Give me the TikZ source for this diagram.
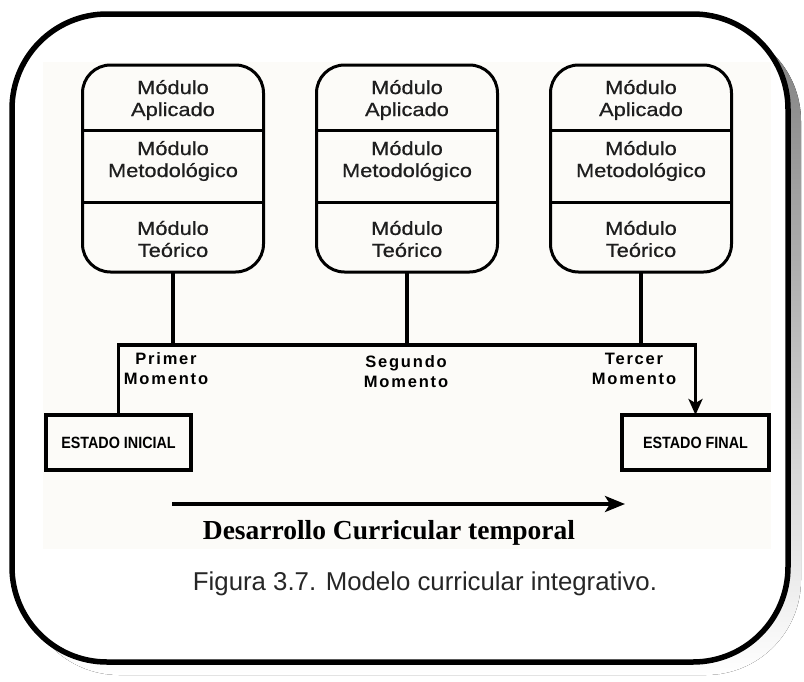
\documentclass[tikz,border=0pt]{standalone}
\usepackage{fontspec}
\setmainfont{Liberation Sans}
\newfontfamily\modfont[FakeStretch=1.15, FakeBold=0.6]{Liberation Sans}
\newfontfamily\momfont[LetterSpace=11]{Liberation Sans}
\newfontfamily\statefont[FakeStretch=0.88]{Liberation Sans}
\newfontfamily\serifbold{Liberation Serif}
\usetikzlibrary{arrows.meta,positioning}

\definecolor{panel}{RGB}{252,251,248}
\definecolor{shade}{RGB}{128,128,128}
\definecolor{ink}{RGB}{30,30,30}

\tikzset{
  modbox/.style={draw, line width=3pt, rounded corners=28pt, outer sep=0pt,
    minimum width=181pt, minimum height=207pt},
  modtext/.style={align=center, text=ink, font=\modfont\fontsize{19}{22}\selectfont},
  momtext/.style={align=center, font=\momfont\bfseries\fontsize{16.5}{20}\selectfont},
  statebox/.style={draw, line width=3.5pt, outer sep=0pt, inner sep=0pt,
    minimum height=55pt, font=\statefont\bfseries\fontsize{16.3}{18}\selectfont},
  wire/.style={line width=3.5pt},
  divider/.style={line width=3pt},
}

\begin{document}
\begin{tikzpicture}[x=1pt, y=-1pt]
    \useasboundingbox (0,0) rectangle (804,681);
    % frame
    \fill[shade, rounded corners=95pt] (24,26) rectangle (801,675);
    \draw[line width=5.5pt, fill=white, rounded corners=95pt] (12,14) rectangle (788,662);
    \fill[panel] (43,62) rectangle (771,549);

    % modules
    \node[modbox] (m1) at (173,168.5) {};
    \node[modbox] (m2) at (407,168.5) {};
    \node[modbox] (m3) at (641,168.5) {};
    \draw[divider] (m1.west |- 0,130) -- (m1.east |- 0,130);
    \draw[divider] (m1.west |- 0,202) -- (m1.east |- 0,202);
    \draw[divider] (m2.west |- 0,130) -- (m2.east |- 0,130);
    \draw[divider] (m2.west |- 0,202) -- (m2.east |- 0,202);
    \draw[divider] (m3.west |- 0,130) -- (m3.east |- 0,130);
    \draw[divider] (m3.west |- 0,202) -- (m3.east |- 0,202);
    \node[modtext] (m1a) at (173,100) {Módulo\\Aplicado};
    \node[modtext] (m1b) at (173,161) {Módulo\\Metodológico};
    \node[modtext] (m1c) at (173,239) {Módulo\\Teórico};
    \node[modtext] (m2a) at (407,100) {Módulo\\Aplicado};
    \node[modtext] (m2b) at (407,161) {Módulo\\Metodológico};
    \node[modtext] (m2c) at (407,239) {Módulo\\Teórico};
    \node[modtext] (m3a) at (641,100) {Módulo\\Aplicado};
    \node[modtext] (m3b) at (641,161) {Módulo\\Metodológico};
    \node[modtext] (m3c) at (641,239) {Módulo\\Teórico};

    % states
    \node[statebox, minimum width=145pt] (ini) at (118.5,442.5) {ESTADO INICIAL};
    \node[statebox, minimum width=147pt] (fin) at (695.5,442.5) {ESTADO FINAL};

    % connectors
    \coordinate (bus) at (0,345);
    \draw[wire] (m1.south) -- (m1.south |- bus);
    \draw[wire] (m2.south) -- (m2.south |- bus);
    \draw[wire] (m3.south) -- (m3.south |- bus);
    \draw[wire, -{Stealth[length=16pt, width=14pt, inset=4pt]}]
        (ini.north) |- (bus -| fin.north) -- (fin.north);
    \node[momtext] (p1) at (166,369) {Primer\\Momento};
    \node[momtext] (p2) at (406,372) {Segundo\\Momento};
    \node[momtext] (p3) at (634,369) {Tercer\\Momento};

    % time axis
    \coordinate (t0) at (172,504);
    \coordinate (t1) at (625,504);
    \draw[wire, -{Stealth[length=20pt, width=16pt, inset=5pt]}] (t0) -- (t1);
    \node[anchor=base, font=\serifbold\bfseries\fontsize{27.5}{30}\selectfont] (axis) at (389,539)
        {Desarrollo Curricular temporal};
    \node[anchor=base, text=black!85, font=\fontsize{25.8}{30}\selectfont] (cap) at (425,590)
        {Figura 3.7. Modelo curricular integrativo.};
\end{tikzpicture}
\end{document}
